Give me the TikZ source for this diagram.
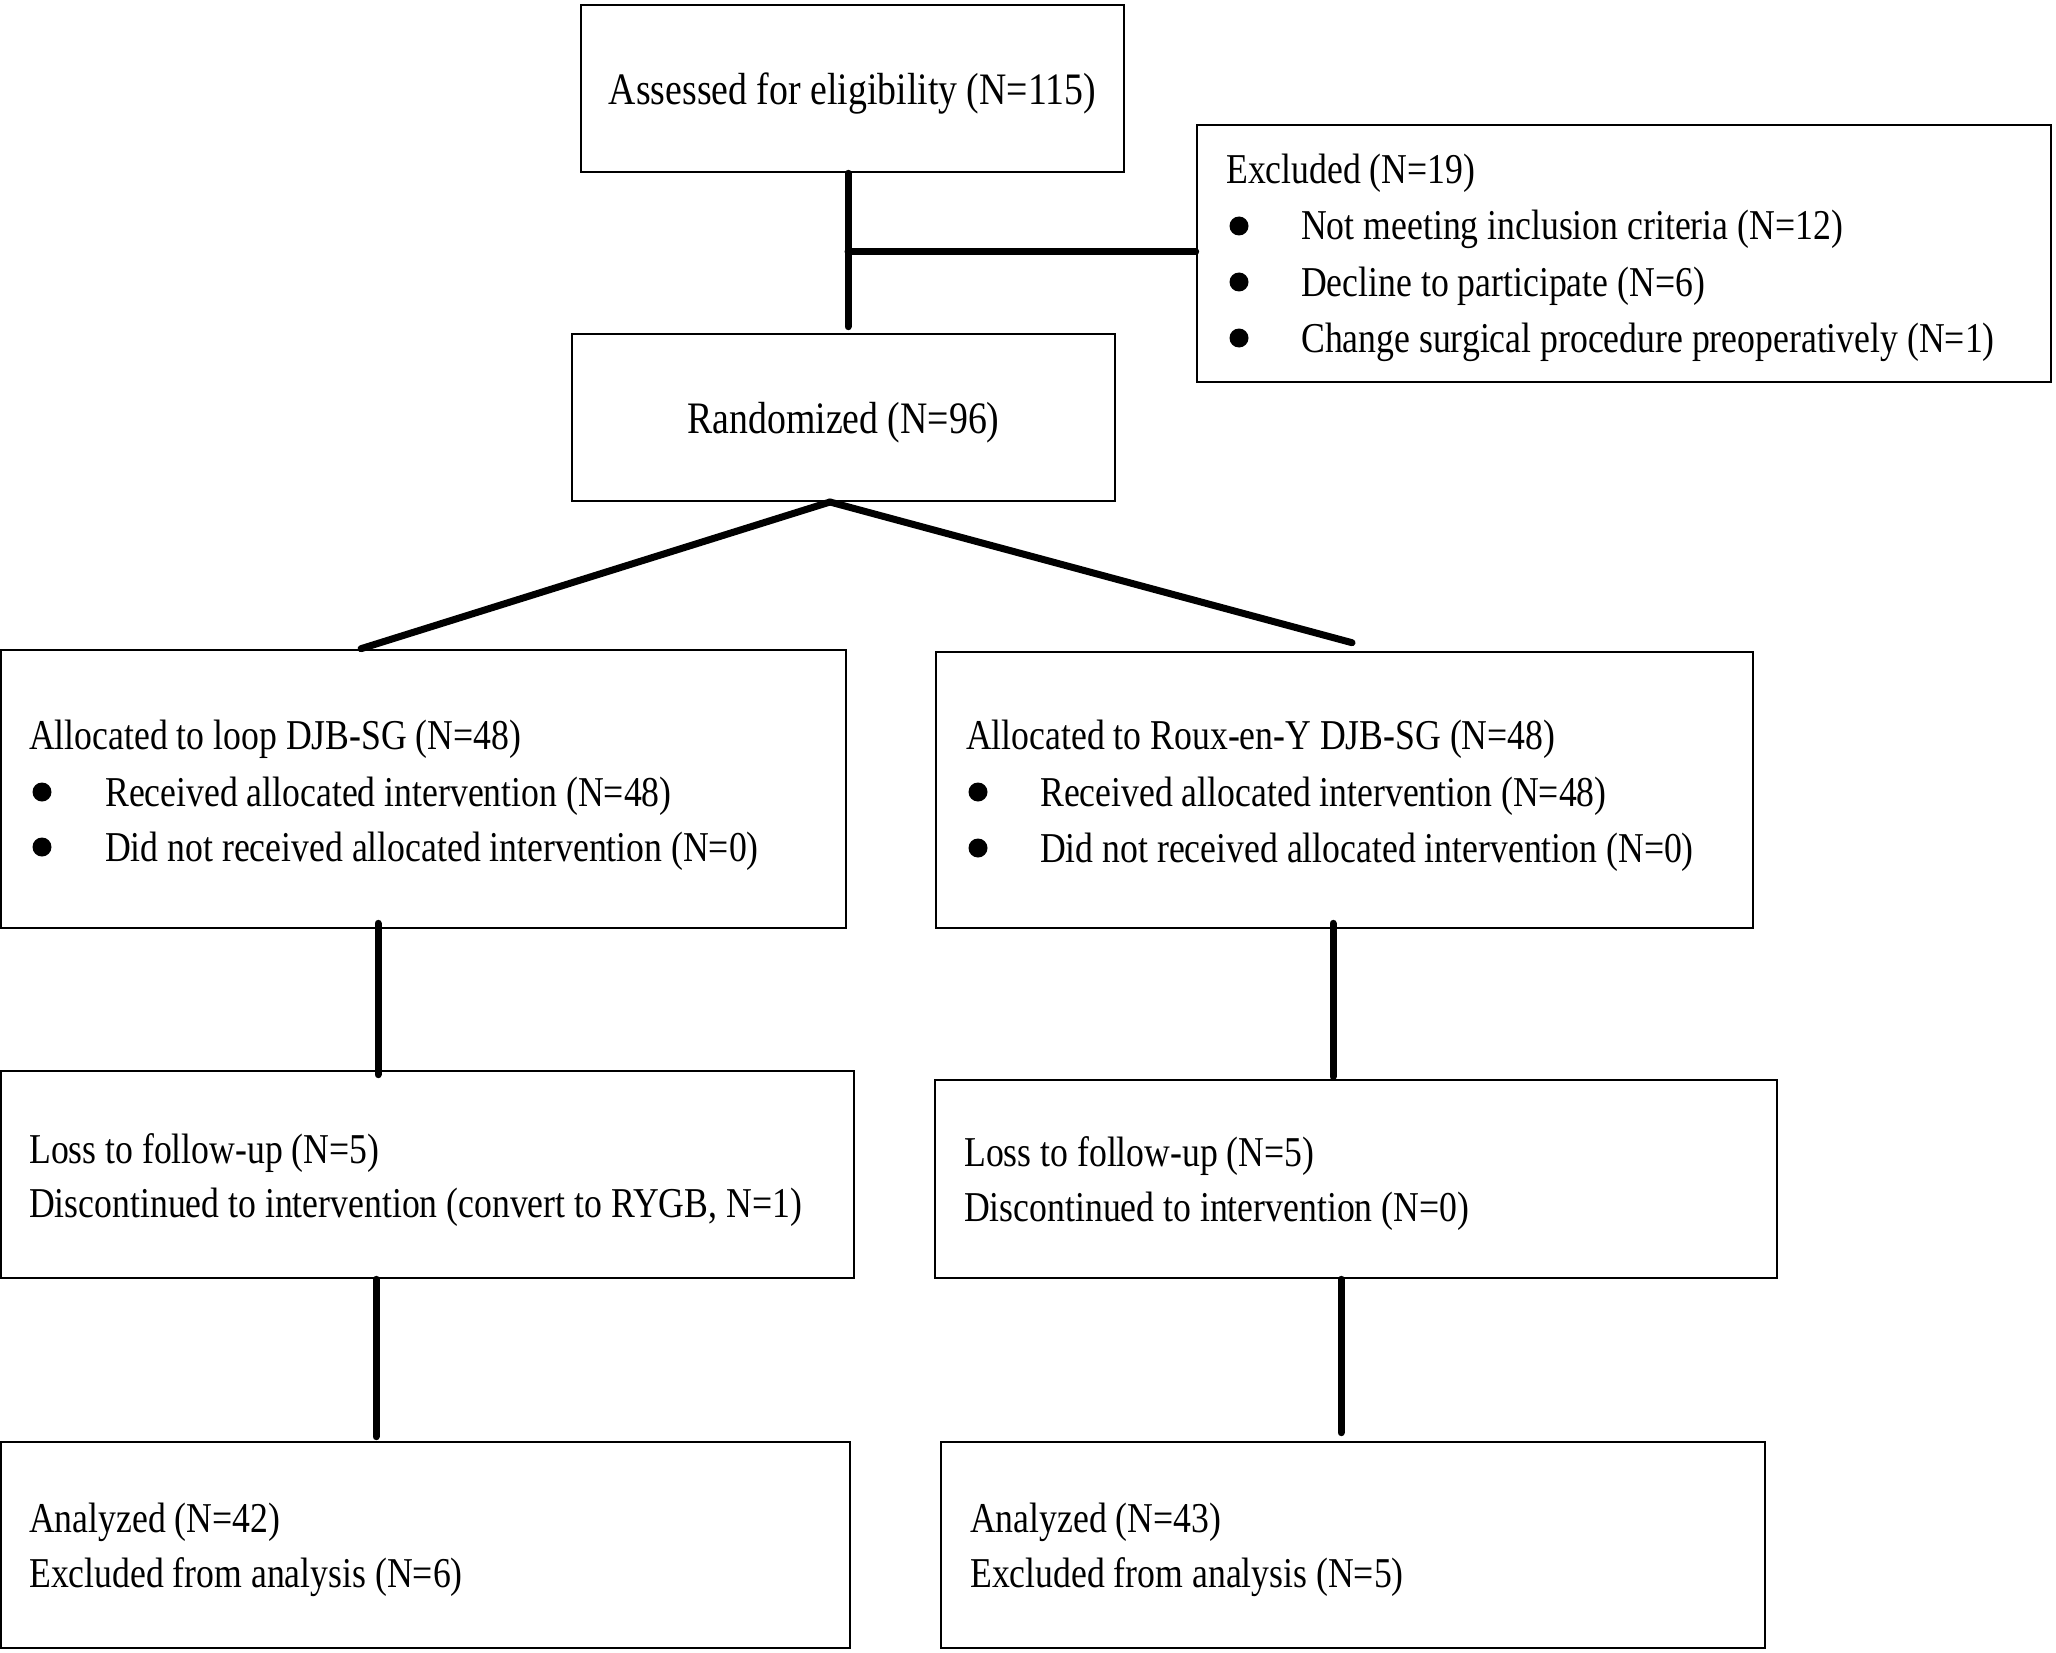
\documentclass[tikz,border=0pt]{standalone}
\usepackage{fontspec}
\setmainfont[FakeStretch=0.84]{Liberation Serif}
\begin{document}
\begin{tikzpicture}[x=1pt,y=-1pt,
  box/.style={draw, line width=2.6, inner sep=0pt, rectangle},
  conn/.style={line width=7, line cap=round},
  txt/.style={anchor=west, inner sep=0pt, font=\fontsize{42.5}{50}\selectfont},
  ctxt/.style={anchor=center, inner sep=0pt, font=\fontsize{45}{50}\selectfont},
  bul/.style={circle, fill, inner sep=0pt, minimum size=19}]
\fill[white] (0,0) rectangle (2056,1653);
\useasboundingbox (0,0) rectangle (2056,1653);
% boxes
\node[box, minimum width=543, minimum height=167] (assess) at (852.5,88.5) {};
\node[box, minimum width=854, minimum height=257] (excl) at (1624,253.5) {};
\node[box, minimum width=543, minimum height=167] (rand) at (843.5,417.5) {};
\node[box, minimum width=845, minimum height=278] (allocL) at (423.5,789) {};
\node[box, minimum width=817, minimum height=276] (allocR) at (1344.5,790) {};
\node[box, minimum width=853, minimum height=207] (lossL) at (427.5,1174.5) {};
\node[box, minimum width=842, minimum height=198] (lossR) at (1356,1179) {};
\node[box, minimum width=849, minimum height=206] (anL) at (425.5,1545) {};
\node[box, minimum width=824, minimum height=206] (anR) at (1353,1545) {};
% centred texts
\node[ctxt] (assessT) at (852.5,93.5) {Assessed for eligibility (N=115)};
\node[ctxt] (randT) at (843.5,422.5) {Randomized (N=96)};
% excluded text
\node[txt] (ex0) at (1226,173) {Excluded (N=19)};
\node[bul] (exb1) at (1239,226) {};
\node[bul] (exb2) at (1239,282) {};
\node[bul] (exb3) at (1239,338) {};
\node[txt] (ex1) at (1301,229.5) {Not meeting inclusion criteria (N=12)};
\node[txt] (ex2) at (1301,286) {Decline to participate (N=6)};
\node[txt] (ex3) at (1301,342) {Change surgical procedure preoperatively (N=1)};
% allocation left
\node[txt] (al0) at (29,739.6) {Allocated to loop DJB-SG (N=48)};
\node[bul] (alb1) at (42,792) {};
\node[bul] (alb2) at (42,847) {};
\node[txt] (al1) at (105,796) {Received allocated intervention (N=48)};
\node[txt] (al2) at (105,851) {Did not received allocated intervention (N=0)};
% allocation right
\node[txt] (ar0) at (966,739.6) {Allocated to Roux-en-Y DJB-SG (N=48)};
\node[bul] (arb1) at (978,792) {};
\node[bul] (arb2) at (978,848) {};
\node[txt] (ar1) at (1040,796) {Received allocated intervention (N=48)};
\node[txt] (ar2) at (1040,852) {Did not received allocated intervention (N=0)};
% loss
\node[txt] (ll1) at (29,1152.6) {Loss to follow-up (N=5)};
\node[txt] (ll2) at (29,1207.7) {Discontinued to intervention (convert to RYGB, N=1)};
\node[txt] (lr1) at (964,1156.5) {Loss to follow-up (N=5)};
\node[txt] (lr2) at (964,1211.6) {Discontinued to intervention (N=0)};
% analyzed
\node[txt] (nl1) at (29,1522) {Analyzed (N=42)};
\node[txt] (nl2) at (29,1577) {Excluded from analysis (N=6)};
\node[txt] (nr1) at (970,1522) {Analyzed (N=43)};
\node[txt] (nr2) at (970,1577) {Excluded from analysis (N=5)};
% connectors
\coordinate (jx) at (848,252);
\draw[conn] (assess.south -| jx) -- ([yshift=6]rand.north -| jx);
\draw[conn] (jx) -- (excl.west |- jx);
\coordinate (split) at (830,502);
\coordinate (dlx) at (361,0);
\coordinate (drx) at (1352,0);
\draw[conn] (split) -- (allocL.north -| dlx);
\draw[conn] (split) -- ([yshift=8]allocR.north -| drx);
\coordinate (c1) at (378,0);
\coordinate (c2) at (1333,0);
\coordinate (c3) at (376,0);
\coordinate (c4) at (1341,0);
\draw[conn] ([yshift=6]allocL.south -| c1) -- ([yshift=-5]lossL.north -| c1);
\draw[conn] ([yshift=6]allocR.south -| c2) -- ([yshift=2]lossR.north -| c2);
\draw[conn] (lossL.south -| c3) -- ([yshift=4]anL.north -| c3);
\draw[conn] (lossR.south -| c4) -- ([yshift=8]anR.north -| c4);
\end{tikzpicture}
\end{document}
